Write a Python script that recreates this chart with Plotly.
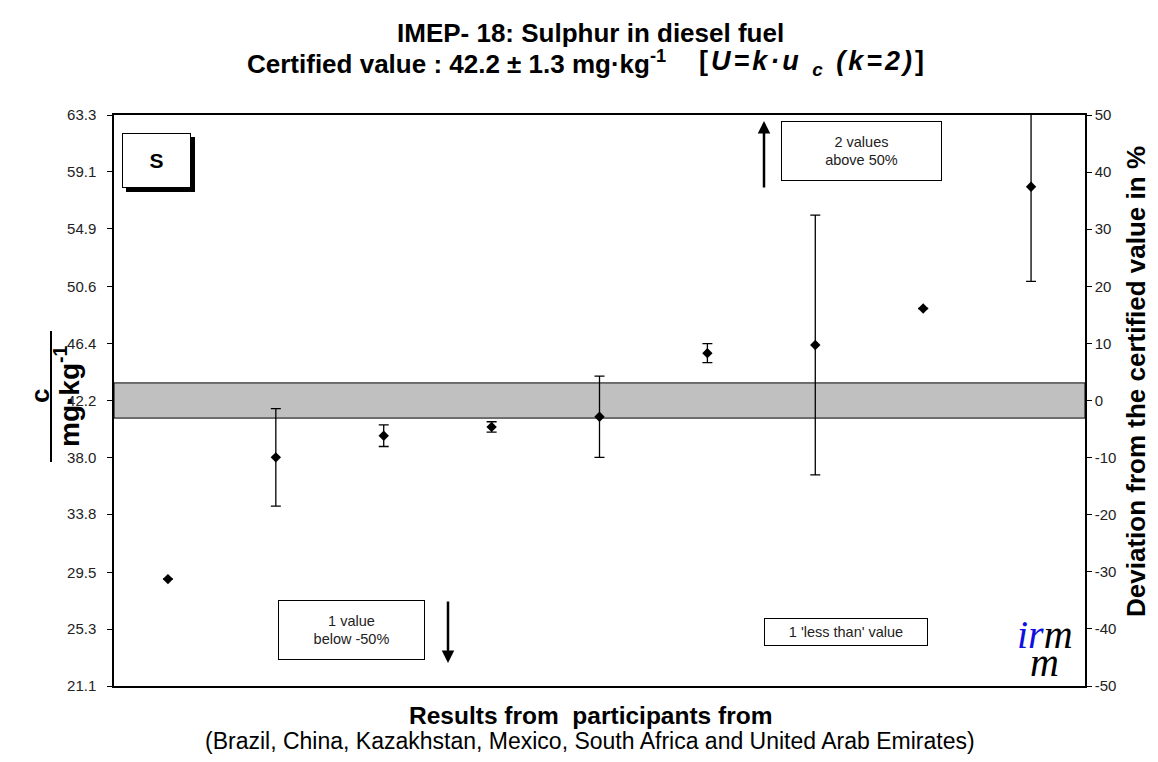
import plotly.graph_objects as go

# ---- data ----
participants = [1, 2, 3, 4, 5, 6, 7, 8, 9]
results = [29.0, 38.0, 39.6, 40.25, 41.0, 45.7, 46.3, 49.0, 58.0]
expanded_unc = [None, 3.6, 0.8, 0.38, 3.0, 0.7, 9.6, None, 7.0]
certified = 42.2
cert_unc = 1.3
left_ticks = [21.1, 25.3, 29.5, 33.8, 38.0, 42.2, 46.4, 50.6, 54.9, 59.1, 63.3]
right_ticks = [-50, -40, -30, -20, -10, 0, 10, 20, 30, 40, 50]

deviation = [(v - certified) / certified * 100 for v in results]

FONT = "Liberation Sans, Arial, sans-serif"
SERIF = "Liberation Serif, Times New Roman, serif"

fig = go.Figure()

fig.add_trace(go.Scatter(
    x=participants, y=results, mode="markers",
    marker=dict(symbol="diamond", size=8, color="black"),
    error_y=dict(type="data", array=expanded_unc, visible=True,
                 color="black", thickness=1.3, width=5),
    showlegend=False, hoverinfo="y", cliponaxis=False,
))
fig.add_trace(go.Scatter(
    x=participants, y=deviation, yaxis="y2", mode="markers",
    marker=dict(opacity=0), showlegend=False, hoverinfo="skip",
))

# page coordinates (the page body has an 8px margin)
OFF = 8
W, H = 1142, 746
L, R, T, B = 114, 1085, 115, 686


def px(x):
    return (x - L) / (R - L)


def py(y):
    return (B - y) / (B - T)


shapes = [
    dict(type="rect", xref="paper", yref="y", x0=0, x1=1,
         y0=certified - cert_unc, y1=certified + cert_unc,
         fillcolor="#c0c0c0", line=dict(color="black", width=1), layer="below"),
    dict(type="rect", xref="paper", yref="paper",
         x0=px(126), x1=px(195), y0=py(192), y1=py(137),
         fillcolor="black", line=dict(width=0), layer="above"),
    dict(type="line", xref="paper", yref="paper",
         x0=px(51), x1=px(51), y0=py(462), y1=py(331),
         line=dict(color="black", width=2)),
]


def note(text, x, y, size, angle=0, family=FONT, color="black", **kw):
    return dict(text=text, xref="paper", yref="paper", x=px(x), y=py(y),
                xanchor="center", yanchor="middle", showarrow=False, textangle=angle,
                font=dict(family=family, size=size, color=color), **kw)


annotations = [
    note("<b>IMEP- 18: Sulphur in diesel fuel</b>", 590, 33, 26),
    note("<b>Certified value : 42.2 ± 1.3 mg·kg<sup>-1</sup></b>", 456, 63, 26),
    note("<span style='letter-spacing:3px'><b>[<i>U=k·u <sub>c</sub> (k=2)</i>]</b></span>",
         813, 63, 27),
    note("<b>Results from  participants from</b>", 590, 715, 24.5),
    note("(Brazil, China, Kazakhstan, Mexico, South Africa and United Arab Emirates)", 590, 741, 23),
    note("<b>Deviation from the certified value in %</b>", 1136, 382, 26, angle=-90),
    note("<b>c</b>", 40, 396, 26, angle=-90),
    note("<b>mg·kg<sup>-1</sup></b>", 67, 396, 28, angle=-90),
    note("<b>S</b>", 156.5, 160.5, 21, width=65, height=51, bgcolor="white",
         bordercolor="black", borderwidth=1),
    note("2 values<br>above 50%", 861.5, 151, 14.5, color="#222", width=157, height=56,
         bgcolor="white", bordercolor="black", borderwidth=1),
    note("1 value<br>below -50%", 351.5, 630, 14.5, color="#222", width=143, height=56,
         bgcolor="white", bordercolor="black", borderwidth=1),
    note("1 'less than' value", 846, 632, 14.5, color="#222", width=160, height=24,
         bgcolor="white", bordercolor="black", borderwidth=1),
    dict(text="", xref="paper", yref="paper", x=px(764), y=py(121), ax=0, ay=68,
         showarrow=True, arrowhead=2, arrowsize=1, arrowwidth=2.5, arrowcolor="black"),
    dict(text="", xref="paper", yref="paper", x=px(448), y=py(663), ax=0, ay=-63,
         showarrow=True, arrowhead=2, arrowsize=1, arrowwidth=2.5, arrowcolor="black"),
    note("<i><span style='color:#1010e0'>ir</span>m</i>", 1045, 634, 40, family=SERIF),
    note("<i>m</i>", 1044, 662, 40, family=SERIF),
]

fig.update_layout(
    width=W, height=H,
    margin=dict(l=L - OFF, r=(OFF + W) - R, t=T - OFF, b=(OFF + H) - B),
    paper_bgcolor="white", plot_bgcolor="white",
    showlegend=False,
    xaxis=dict(range=[0.5, 9.5], showticklabels=False, ticks="", showgrid=False,
               zeroline=False, showline=True, mirror=True, linecolor="black", linewidth=1.5),
    yaxis=dict(range=[left_ticks[0], left_ticks[-1]], tickvals=left_ticks,
               ticktext=[f"{v:.1f}" for v in left_ticks], ticks="outside", ticklen=5,
               tickcolor="black", tickwidth=1, showgrid=False, zeroline=False,
               showline=True, mirror=True, linecolor="black", linewidth=1.5,
               ticklabelstandoff=8,
               tickfont=dict(family=FONT, size=15, color="#222")),
    yaxis2=dict(overlaying="y", side="right", range=[-50, 50], tickvals=right_ticks,
                ticktext=[str(v) for v in right_ticks],
                ticks="outside", ticklen=5, tickcolor="black", tickwidth=1,
                showgrid=False, zeroline=False, showline=True, linecolor="black",
                linewidth=1.5, tickfont=dict(family=FONT, size=15, color="#222")),
    shapes=shapes,
    annotations=annotations,
)

fig.write_html("out.html")
